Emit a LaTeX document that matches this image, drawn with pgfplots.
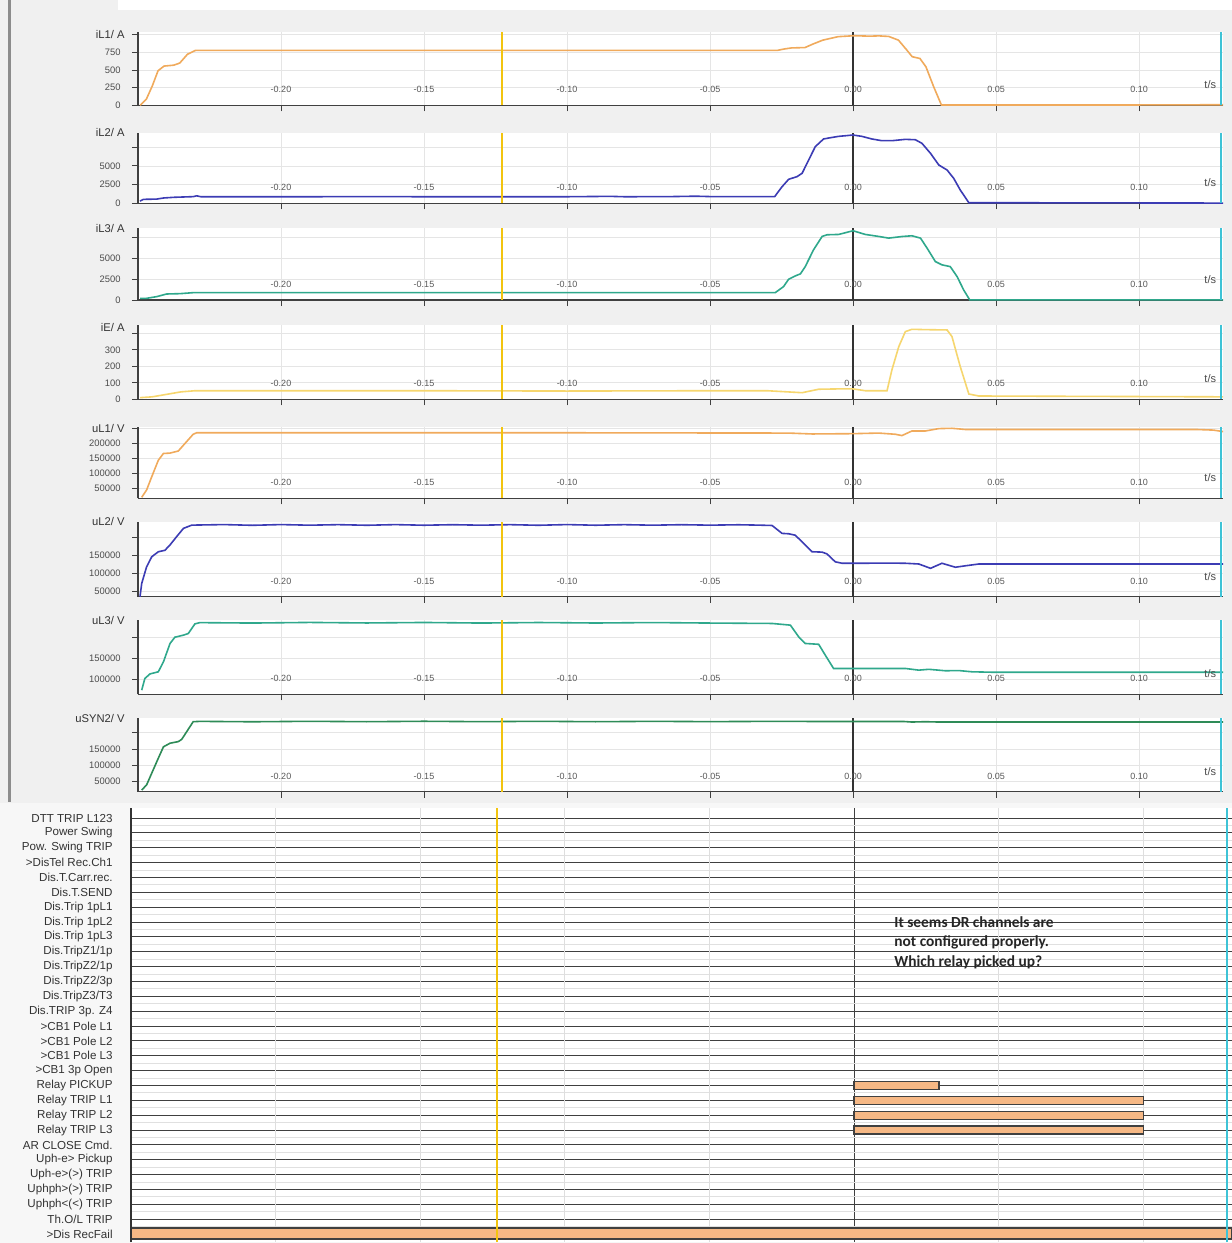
\documentclass[border=0pt]{standalone}
\usepackage{fontspec}
\setmainfont{Liberation Sans}
\newfontfamily\carlito{Carlito}
\usepackage{pgfplots}
\pgfplotsset{compat=1.18}
\definecolor{bg}{HTML}{F0F0F0}
\definecolor{cOr}{HTML}{F0AA5C}
\definecolor{cBl}{HTML}{3C3CB4}
\definecolor{cTe}{HTML}{2FA88C}
\definecolor{cYe}{HTML}{F6D66E}
\definecolor{cGr}{HTML}{2E8B57}
\definecolor{curY}{HTML}{F2C40F}
\definecolor{curC}{HTML}{3EC3D6}
\definecolor{barf}{HTML}{F6B885}
\tikzset{unitlab/.style={anchor=east, inner sep=0pt, xshift=-6.5pt, font=\fontsize{5.6}{6}\selectfont, text=black!80}}
\newcommand{\cursors}{%
  \draw[curY, line width=1.1pt] (rel axis cs:0.33556,0) -- (rel axis cs:0.33556,1);
  \draw[curC, line width=1.1pt] (rel axis cs:0.998,0) -- (rel axis cs:0.998,1);
  \node[anchor=south east, inner sep=0pt, yshift=8pt, font=\fontsize{5.5}{6}\selectfont, text=black!70] at (rel axis cs:0.994,0) {t/s};
}
\pgfplotsset{
  ana/.style={
    scale only axis, width=542.5pt, xmin=-0.25, xmax=0.12937, anchor=south west,
    axis background/.style={fill=white},
    axis x line*=bottom, axis y line*=left,
    axis line style={-, draw=black!75, line width=0.6pt},
    xtick={-0.2,-0.15,-0.1,-0.05,0.05,0.1},
    xticklabels={-0.20,-0.15,-0.10,-0.05,0.05,0.10},
    extra x ticks={0}, extra x tick labels={0.00},
    extra x tick style={grid=major, major grid style={black!80, line width=0.7pt}},
    xmajorgrids, ymajorgrids, major grid style={black!10, line width=0.4pt},
    tick align=outside, major tick length=3pt, tick style={black!75, line width=0.5pt},
    xticklabel style={font=\fontsize{4.5}{5}\selectfont, text=black!65, anchor=south, inner sep=0pt, yshift=9pt},
    yticklabel style={font=\fontsize{4.7}{5}\selectfont, text=black!70, inner sep=0pt, xshift=-5.5pt},
    scaled y ticks=false, scaled x ticks=false,
    /pgf/number format/assume math mode=true,
  },
  sig/.style={line width=0.8pt, #1},
}
\begin{document}
\begin{tikzpicture}
\useasboundingbox (0,0) rectangle (616pt,-621.5pt);
\fill[bg] (0,0) rectangle (616pt,-401.5pt);
\fill[white] (59pt,0) rectangle (616pt,-5pt);
\fill[black!3] (0,-401.5pt) rectangle (616pt,-621.5pt);
\draw[black!45, line width=1.5pt] (4.75pt,0) -- (4.75pt,-401pt);

% ---------- iL1
\begin{axis}[ana, at={(69pt,-52.65pt)}, height=36.65pt, ymin=0, ymax=1041,
  ytick={0,250,500,750,1000}, yticklabels={0,250,500,750,{}},
  extra description/.code={\node[unitlab] at (0,0.96) {iL1/ A};}]
\addplot[sig=cOr] coordinates {(-0.2492,0) (-0.2471,85) (-0.2450,275) (-0.2430,490) (-0.2409,557) (-0.2375,570) (-0.2354,600) (-0.2327,725) (-0.2299,780) (-0.1500,781) (-0.0263,781) (-0.0240,800) (-0.0215,815) (-0.0168,820) (-0.0140,870) (-0.0106,925) (-0.0052,975) (0.0003,988) (0.0060,982) (0.0090,986) (0.0125,978) (0.0159,925) (0.0187,790) (0.0207,690) (0.0234,665) (0.0255,547) (0.0282,264) (0.0309,5) (0.1000,5) (0.1294,8)};
\cursors
\end{axis}

% ---------- iL2
\begin{axis}[ana, at={(69pt,-101.65pt)}, height=35.15pt, ymin=0, ymax=9400,
  ytick={0,2500,5000,7500}, yticklabels={0,2500,5000,{}},
  extra description/.code={\node[unitlab] at (0,1) {iL2/ A};}]
\addplot[sig=cBl] coordinates {(-0.2493,300) (-0.2481,530) (-0.2435,560) (-0.2411,710) (-0.2376,800) (-0.2307,890) (-0.2295,1000) (-0.2280,880) (-0.1900,880) (-0.1600,900) (-0.1500,870) (-0.1000,880) (-0.0850,930) (-0.0800,880) (-0.0650,890) (-0.0550,950) (-0.0500,900) (-0.0400,890) (-0.0274,890) (-0.0248,2220) (-0.0225,3210) (-0.0196,3560) (-0.0178,4010) (-0.0155,5790) (-0.0132,7570) (-0.0103,8600) (-0.0079,8770) (-0.0050,8950) (0,9130) (0.0031,8950) (0.0066,8600) (0.0101,8370) (0.0136,8370) (0.0183,8550) (0.0218,8500) (0.0241,8020) (0.0271,6680) (0.0300,5120) (0.0329,4450) (0.0352,3340) (0.0375,1780) (0.0405,80) (0.0800,60) (0.1294,30)};
\cursors
\end{axis}

% ---------- iL3
\begin{axis}[ana, at={(69pt,-150pt)}, height=36pt, ymin=0, ymax=8620,
  ytick={0,2500,5000,7500}, yticklabels={0,2500,5000,{}},
  extra description/.code={\node[unitlab] at (0,1) {iL3/ A};}]
\addplot[sig=cTe] coordinates {(-0.2493,200) (-0.2470,200) (-0.2435,400) (-0.2400,720) (-0.2353,760) (-0.2307,880) (-0.0272,880) (-0.0243,1600) (-0.0225,2490) (-0.0202,2880) (-0.0184,3130) (-0.0167,4000) (-0.0138,6010) (-0.0108,7610) (-0.0091,7810) (-0.0050,7850) (0,8290) (0.0043,7850) (0.0090,7610) (0.0125,7410) (0.0171,7600) (0.0206,7690) (0.0236,7410) (0.0259,6210) (0.0288,4600) (0.0311,4210) (0.0340,4000) (0.0364,2800) (0.0387,1200) (0.0408,20) (0.1294,20)};
\cursors
\end{axis}

% ---------- iE
\begin{axis}[ana, at={(69pt,-199.65pt)}, height=37.15pt, ymin=0, ymax=450,
  ytick={0,100,200,300,400}, yticklabels={0,100,200,300,{}},
  extra description/.code={\node[unitlab] at (0,0.96) {iE/ A};}]
\addplot[sig=cYe] coordinates {(-0.2493,10) (-0.2450,15) (-0.2400,30) (-0.2350,45) (-0.2300,52) (-0.1500,52) (-0.1000,50) (-0.0500,52) (-0.0300,52) (-0.0178,40) (-0.0120,61) (-0.0050,63) (0,63) (0.0043,52) (0.0119,52) (0.0136,178) (0.0160,319) (0.0183,410) (0.0206,424) (0.0253,422) (0.0329,420) (0.0346,380) (0.0375,198) (0.0405,32) (0.0440,20) (0.1294,15)};
\cursors
\end{axis}

% ---------- uL1
\begin{axis}[ana, at={(69pt,-249.15pt)}, height=35.65pt, ymin=16700, ymax=255300,
  ytick={50000,100000,150000,200000,250000}, yticklabels={50000,100000,150000,200000,{}},
  extra description/.code={\node[unitlab] at (0,0.98) {uL1/ V};}]
\addplot[sig=cOr] coordinates {(-0.2487,20000) (-0.2470,44300) (-0.2452,88700) (-0.2429,144000) (-0.2411,166700) (-0.2388,168000) (-0.2359,175000) (-0.2336,200000) (-0.2307,231000) (-0.2295,236000) (-0.1000,236000) (-0.0225,235000) (-0.0143,232000) (0,233000) (0.0090,235000) (0.0148,231000) (0.0171,226600) (0.0206,242000) (0.0253,242000) (0.0300,250000) (0.0346,251000) (0.0393,247000) (0.1200,247000) (0.1260,245000) (0.1294,240000)};
\cursors
\end{axis}

% ---------- uL2
\begin{axis}[ana, at={(69pt,-298.35pt)}, height=37.5pt, ymin=36100, ymax=244500,
  ytick={50000,100000,150000,200000}, yticklabels={50000,100000,150000,{}},
  extra description/.code={\node[unitlab] at (0,1) {uL2/ V};}]
\addplot[sig=cBl] coordinates {(-0.2493,36000) (-0.2487,73000) (-0.2470,119000) (-0.2452,147000) (-0.2429,161000) (-0.2406,165000) (-0.2388,180000) (-0.2365,203000) (-0.2341,226000) (-0.2312,235000) (-0.2200,236500) (-0.2100,234500) (-0.2000,236500) (-0.1900,234800) (-0.1800,236300) (-0.1700,234600) (-0.1600,236400) (-0.1500,234700) (-0.1400,236200) (-0.1300,234800) (-0.1200,236300) (-0.1100,234600) (-0.1000,236500) (-0.0900,234700) (-0.0800,236300) (-0.0700,234800) (-0.0600,236200) (-0.0500,234900) (-0.0400,236000) (-0.0330,235000) (-0.0283,234000) (-0.0248,212000) (-0.0225,211000) (-0.0202,207000) (-0.0167,180000) (-0.0143,161000) (-0.0108,160000) (-0.0091,155000) (-0.0062,133000) (-0.0038,129000) (0,129000) (0.0136,129500) (0.0183,129000) (0.0230,127000) (0.0271,115000) (0.0311,129000) (0.0358,118000) (0.0393,122000) (0.0440,127000) (0.1294,127000)};
\cursors
\end{axis}

% ---------- uL3
\begin{axis}[ana, at={(69pt,-347.15pt)}, height=37.15pt, ymin=64000, ymax=242300,
  ytick={100000,150000,200000}, yticklabels={100000,150000,{}},
  extra description/.code={\node[unitlab] at (0,1) {uL3/ V};}]
\addplot[sig=cTe] coordinates {(-0.2487,74000) (-0.2476,102000) (-0.2458,113000) (-0.2429,118000) (-0.2411,142000) (-0.2388,186000) (-0.2371,201000) (-0.2341,206000) (-0.2324,210000) (-0.2301,233000) (-0.2284,236000) (-0.2100,235000) (-0.1900,236500) (-0.1700,235200) (-0.1500,236400) (-0.1300,235000) (-0.1100,236300) (-0.0900,235100) (-0.0700,236200) (-0.0500,235000) (-0.0283,234000) (-0.0219,230000) (-0.0190,202000) (-0.0167,186000) (-0.0120,184000) (-0.0097,158000) (-0.0068,126000) (0,126000) (0.0183,126000) (0.0230,122000) (0.0265,124000) (0.0323,120500) (0.0370,121000) (0.0416,118000) (0.0486,117000) (0.1294,117000)};
\cursors
\end{axis}

% ---------- uSYN2
\begin{axis}[ana, at={(69pt,-395.85pt)}, height=36.7pt, ymin=19300, ymax=244400,
  ytick={50000,100000,150000,200000}, yticklabels={50000,100000,150000,{}},
  extra description/.code={\node[unitlab] at (0,1) {uSYN2/ V};}]
\addplot[sig=cGr] coordinates {(-0.2487,24500) (-0.2470,40000) (-0.2452,76000) (-0.2429,122000) (-0.2411,157000) (-0.2388,168000) (-0.2359,173000) (-0.2347,180000) (-0.2330,203000) (-0.2307,234000) (-0.2284,235000) (-0.2100,233800) (-0.1900,235200) (-0.1700,234000) (-0.1500,235300) (-0.1300,234100) (-0.1100,235200) (-0.0900,234000) (-0.0700,235100) (-0.0500,234200) (-0.0300,235000) (0,234500) (0.0180,234500) (0.0206,233000) (0.0253,234000) (0.0300,233000) (0.1294,233000)};
\cursors
\end{axis}

% ---------- binary channels
\begin{axis}[scale only axis, at={(65.5pt,-621pt)}, anchor=south west, width=550.5pt, height=217pt,
  xmin=-0.25, xmax=0.1307, ymin=-0.673, ymax=28.54, y dir=reverse,
  axis background/.style={fill=white},
  axis line style={draw=none},
  xtick={0}, xticklabels={},
  extra x ticks={-0.2,-0.15,-0.1,-0.05,0.05,0.1}, extra x tick labels={},
  extra x tick style={grid=major, major grid style={black!13, line width=0.5pt}},
  ytick={0,1,...,28},
  yticklabels={DTT TRIP L123, Power Swing, Pow. Swing TRIP, >DisTel Rec.Ch1, Dis.T.Carr.rec., Dis.T.SEND, Dis.Trip 1pL1, Dis.Trip 1pL2, Dis.Trip 1pL3, Dis.TripZ1/1p, Dis.TripZ2/1p, Dis.TripZ2/3p, Dis.TripZ3/T3, Dis.TRIP 3p. Z4, >CB1 Pole L1, >CB1 Pole L2, >CB1 Pole L3, >CB1 3p Open, Relay PICKUP, Relay TRIP L1, Relay TRIP L2, Relay TRIP L3, AR CLOSE Cmd., Uph-e> Pickup, Uph-e>(>) TRIP, Uphph>(>) TRIP, Uphph<(<) TRIP, Th.O/L TRIP, >Dis RecFail},
  minor ytick={0.5,1.5,...,27.5},
  xmajorgrids, ymajorgrids, yminorgrids,
  major grid style={black!75, line width=0.5pt}, minor grid style={black!12, line width=0.4pt},
  major tick length=0pt, minor tick length=0pt,
  yticklabel style={font=\fontsize{5.8}{6}\selectfont, text=black!80, inner sep=0pt, xshift=-9pt},
  extra description/.code={\draw[black!80, line width=0.7pt] (0,0) -- (0,1);},
]
\addplot[fill=barf, draw=black!75, line width=0.6pt] coordinates {(0,17.73) (0.0294,17.73) (0.0294,18.27) (0,18.27)} -- cycle;
\addplot[fill=barf, draw=black!75, line width=0.6pt] coordinates {(0,18.73) (0.1001,18.73) (0.1001,19.27) (0,19.27)} -- cycle;
\addplot[fill=barf, draw=black!75, line width=0.6pt] coordinates {(0,19.73) (0.1001,19.73) (0.1001,20.27) (0,20.27)} -- cycle;
\addplot[fill=barf, draw=black!75, line width=0.6pt] coordinates {(0,20.73) (0.1001,20.73) (0.1001,21.27) (0,21.27)} -- cycle;
\addplot[fill=barf, draw=black!75, line width=0.6pt] coordinates {(-0.25,27.60) (0.1307,27.60) (0.1307,28.34) (-0.25,28.34)} -- cycle;
\draw[curY, line width=1.1pt] (rel axis cs:0.33255,0) -- (rel axis cs:0.33255,1);
\draw[curC, line width=1.1pt] (rel axis cs:0.99553,0) -- (rel axis cs:0.99553,1);
\end{axis}

\node[anchor=north west, inner sep=0pt, align=left, text=black!85, font=\carlito\bfseries\fontsize{7.7}{9.7}\selectfont] at (447pt,-458pt) {It seems DR channels are\\not configured properly.\\Which relay picked up?};
\end{tikzpicture}
\end{document}
